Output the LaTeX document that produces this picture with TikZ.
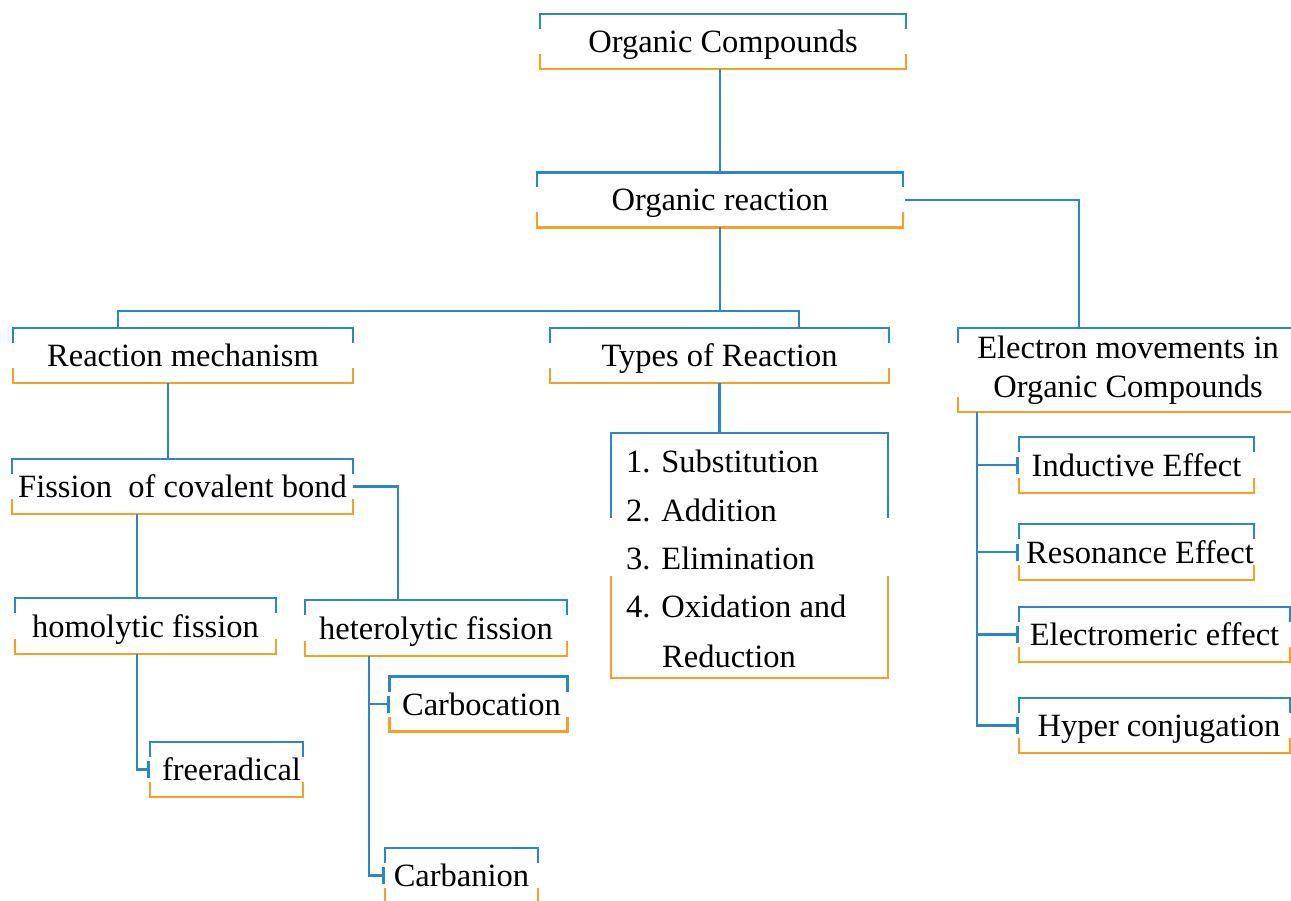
\documentclass[tikz,border=0pt]{standalone}
\usepackage{fontspec}
\setmainfont{Liberation Serif}
\usetikzlibrary{arrows.meta}
\definecolor{lblue}{RGB}{44,134,202}
\definecolor{lorange}{RGB}{247,160,38}
\begin{document}
\begin{tikzpicture}[x=1pt,y=-1pt,
  bx/.style={inner sep=0pt, outer sep=0pt, text height=25pt, text depth=3pt, font=\fontsize{32.5}{38}\selectfont},
  item/.style={inner sep=0pt, anchor=base west, font=\fontsize{32.5}{38}\selectfont},
  conn/.style={draw=lblue, line width=2.9pt},
  tee/.style={conn, -{Bar[width=17pt]}},
  topline/.style={draw=lblue, line width=2.9pt},
  botline/.style={draw=lorange, line width=2.9pt}
]
\useasboundingbox (0,0) rectangle (1291,901);

% boxes
\node[bx, minimum width=366pt, minimum height=55pt] (oc) at (723,41.5) {Organic Compounds};
\node[bx, minimum width=366pt, minimum height=55pt] (or) at (720,200) {Organic reaction};
\node[bx, minimum width=340pt, minimum height=55pt] (rm) at (183,355.5) {Reaction mechanism};
\node[bx, minimum width=339pt, minimum height=55pt] (ty) at (719.5,355.5) {Types of Reaction};
\node[inner sep=0pt, outer sep=0pt, minimum width=340pt, minimum height=84pt, align=center,
      font=\fontsize{32.5}{39}\selectfont] (el) at (1128,370) {Electron movements in\\Organic Compounds};
\node[bx, minimum width=341pt, minimum height=55pt] (fi) at (182.5,486.5) {Fission~~of covalent bond};
\node[bx, minimum width=261pt, minimum height=56pt] (ho) at (145.5,626) {homolytic fission};
\node[bx, minimum width=262pt, minimum height=56pt] (he) at (436,628) {heterolytic fission};
\node[bx, minimum width=153pt, minimum height=55pt] (fr) at (226.5,769.5) {\hspace*{10pt}freeradical};
\node[bx, minimum width=178pt, minimum height=55pt] (cc) at (478.5,704) {\hspace*{6pt}Carbocation};
\node[bx, minimum width=153pt, minimum height=55pt] (ca) at (461.5,875.5) {Carbanion};
\node[bx, minimum width=235pt, minimum height=56pt] (ind) at (1136.5,465) {Inductive Effect};
\node[bx, minimum width=235pt, minimum height=56pt] (res) at (1136.5,552) {\hspace*{7pt}Resonance Effect};
\node[bx, minimum width=271pt, minimum height=55pt] (em) at (1154.5,634.5) {Electromeric effect};
\node[bx, minimum width=271pt, minimum height=55pt] (hy) at (1154.5,725.5) {\hspace*{9pt}Hyper conjugation};

% list box
\node[inner sep=0pt, outer sep=0pt, minimum width=277pt, minimum height=245pt] (lst) at (749.5,555.5) {};
\node[item] (l1) at (626,472) {1. Substitution};
\node[item] (l2) at (626,521) {2. Addition};
\node[item] (l3) at (626,569) {3. Elimination};
\node[item] (l4) at (626,617) {4. Oxidation and};
\node[item] (l5) at (662,667) {Reduction};

% brackets
\foreach \n in {oc,or,rm,ty,el,fi,ho,he,fr,cc,ca,ind,res,em,hy}{
  \draw[topline] ([yshift=-15pt]\n.north west) -- (\n.north west) -- (\n.north east) -- ([yshift=-15pt]\n.north east);
  \draw[botline] ([yshift=15pt]\n.south west) -- (\n.south west) -- (\n.south east) -- ([yshift=15pt]\n.south east);
}
\draw[topline] ([yshift=-85pt]lst.north west) -- (lst.north west) -- (lst.north east) -- ([yshift=-85pt]lst.north east);
\draw[botline] ([yshift=102pt]lst.south west) -- (lst.south west) -- (lst.south east) -- ([yshift=102pt]lst.south east);

% junction coordinates
\coordinate (xa) at (1079,0);
\coordinate (bl) at (118,311);
\coordinate (br) at (799,311);
\coordinate (xb) at (168,0);
\coordinate (xc) at (398,0);
\coordinate (xd) at (137,0);
\coordinate (xe) at (369,0);
\coordinate (xf) at (977,0);

% connectors
\draw[conn] (oc.south -| or.north) -- (or.north);
\draw[conn] ([xshift=2pt]or.east) -| (el.north -| xa);
\draw[conn] (or.south) -- (or.south |- bl);
\draw[conn] (rm.north -| bl) -- (bl) -- (br) -- (ty.north -| br);
\draw[conn] (rm.south -| xb) -- (fi.north -| xb);
\draw[conn] (fi.east) -| (he.north -| xc);
\draw[conn] (fi.south -| xd) -- (ho.north -| xd);
\draw[tee] (ho.south -| xd) |- (fr.west);
\draw[tee] (he.south -| xe) |- (cc.west);
\draw[tee] (he.south -| xe) |- (ca.west);
\draw[conn] (ty.south) -- (ty.south |- lst.north);
\draw[tee] (el.south -| xf) |- (ind.west);
\draw[tee] (el.south -| xf) |- (res.west);
\draw[tee] (el.south -| xf) |- (em.west);
\draw[tee] (el.south -| xf) |- (hy.west);
\end{tikzpicture}
\end{document}
